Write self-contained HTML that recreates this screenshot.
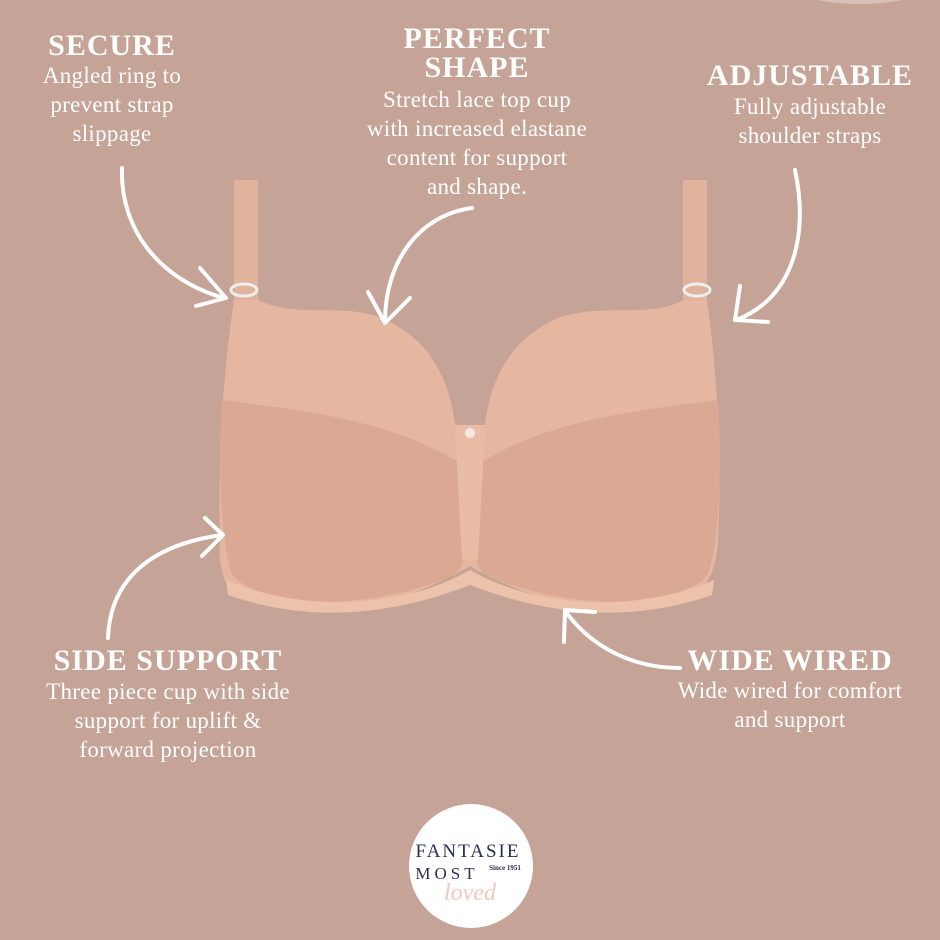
<!DOCTYPE html>
<html><head><meta charset="utf-8"><style>
html,body{margin:0;padding:0;}
body{width:940px;height:940px;background:#c5a396;position:relative;overflow:hidden;font-family:"Liberation Serif",serif;color:#fff;}
.t{position:absolute;text-align:center;white-space:nowrap;}
.h{font-weight:bold;font-size:30px;line-height:29px;letter-spacing:1px;}
.b{font-size:23px;line-height:29px;letter-spacing:0.3px;}
</style></head><body>
<svg width="940" height="940" style="position:absolute;left:0;top:0">
<ellipse cx="860" cy="-10" rx="60" ry="14" fill="#d8c0b6"/>
<rect x="234" y="180" width="24" height="130" fill="#e2b39c"/>
<rect x="683" y="180" width="24" height="130" fill="#e2b39c"/>
<ellipse cx="244" cy="290" rx="13" ry="6" fill="none" stroke="#eee" stroke-width="3"/>
<ellipse cx="697" cy="290" rx="13" ry="6" fill="none" stroke="#eee" stroke-width="3"/>
<path d="M234,300 L258,300 C300,320 350,300 390,322 C430,342 450,380 455,425 L485,425 C490,380 510,342 550,322 C590,300 650,320 683,300 L707,300 C718,380 722,460 718,540 C716,580 700,595 680,602 C640,614 590,612 565,604 C520,592 490,578 470,566 C450,578 420,592 380,604 C340,614 280,614 240,598 C222,588 218,560 220,540 C218,460 222,380 234,300 Z" fill="#e5b7a0"/>
<path d="M222,400 C300,410 400,420 470,470 C475,520 470,560 455,575 C420,590 380,600 330,602 C280,602 245,590 232,575 C220,540 218,460 222,400 Z" fill="#dba993"/>
<path d="M718,400 C640,410 540,420 470,470 C465,520 470,560 485,575 C520,590 560,600 610,602 C660,602 695,590 708,575 C720,540 722,460 718,400 Z" fill="#dba993"/>
<path d="M455,425 L485,425 L478,560 L462,560 Z" fill="#e8bca5"/>
<circle cx="470" cy="433" r="5" fill="#f4e8e2"/>
<path d="M226,580 C300,612 400,610 470,570 C540,610 640,612 714,580 L712,595 C640,620 560,620 470,585 C380,620 300,620 228,595 Z" fill="#ecc2ab"/>
<g fill="none" stroke="#fff" stroke-width="4" stroke-linecap="round" stroke-linejoin="round">
<path d="M122,168 C120,230 160,280 224,298"/>
<path d="M200,268 L226,298 L196,306"/>
<path d="M472,208 C420,215 385,260 385,322"/>
<path d="M368,292 L385,323 L410,298"/>
<path d="M795,170 C810,240 790,300 736,320"/>
<path d="M740,286 L735,320 L768,322"/>
<path d="M108,638 C110,580 150,545 222,535"/>
<path d="M205,518 L223,535 L202,556"/>
<path d="M680,668 C630,668 590,645 566,612"/>
<path d="M564,642 L565,610 L595,612"/>
</g>
<circle cx="471" cy="866" r="62" fill="#fff"/>
<text x="468" y="857" text-anchor="middle" font-family="Liberation Serif,serif" font-size="19" letter-spacing="2" fill="#2b2f55">FANTASIE</text>
<text x="505" y="870" text-anchor="middle" font-family="Liberation Serif,serif" font-size="7" font-weight="bold" fill="#2b2f55">Since 1951</text>
<text x="447" y="879" text-anchor="middle" font-family="Liberation Serif,serif" font-size="17" letter-spacing="4" fill="#2b2f55">MOST</text>
<text x="470" y="900" text-anchor="middle" font-family="Liberation Serif,serif" font-style="italic" font-size="24" fill="#f0c8bd">loved</text>
</svg>
<div class="t h" style="left:12px;width:200px;top:31px">SECURE</div>
<div class="t b" style="left:12px;width:200px;top:61px">Angled ring to<br>prevent strap<br>slippage</div>
<div class="t h" style="left:327px;width:300px;top:24px;line-height:29px">PERFECT<br>SHAPE</div>
<div class="t b" style="left:327px;width:300px;top:85px">Stretch lace top cup<br>with increased elastane<br>content for support<br>and shape.</div>
<div class="t h" style="left:690px;width:240px;top:61px">ADJUSTABLE</div>
<div class="t b" style="left:690px;width:240px;top:92px">Fully adjustable<br>shoulder straps</div>
<div class="t h" style="left:18px;width:300px;top:646px">SIDE SUPPORT</div>
<div class="t b" style="left:18px;width:300px;top:677px">Three piece cup with side<br>support for uplift &amp;<br>forward projection</div>
<div class="t h" style="left:650px;width:280px;top:646px">WIDE WIRED</div>
<div class="t b" style="left:650px;width:280px;top:676px">Wide wired for comfort<br>and support</div>
</body></html>
